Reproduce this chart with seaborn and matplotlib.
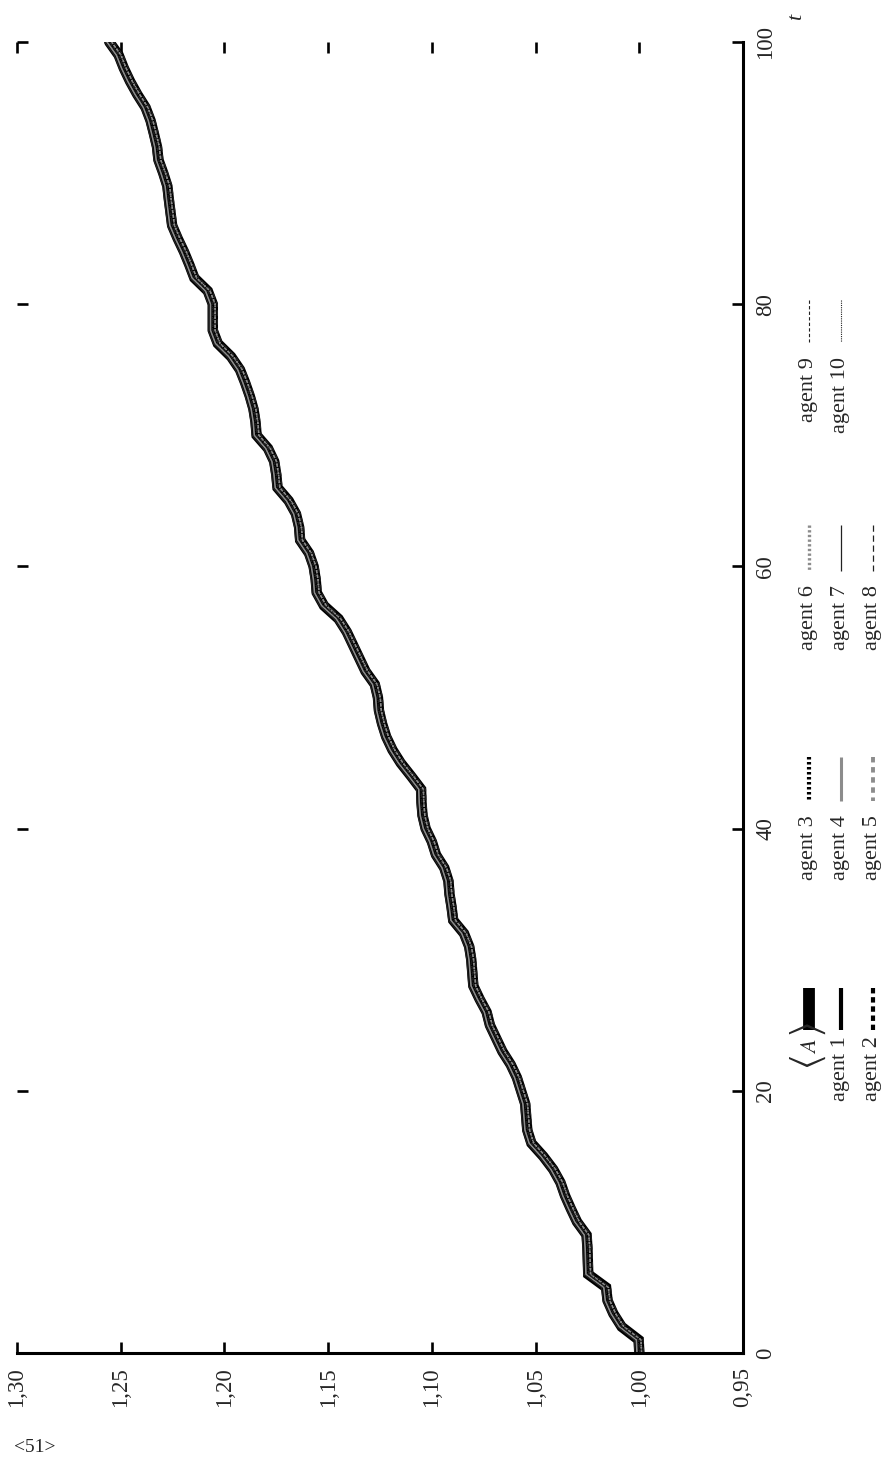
import numpy as np
import pandas as pd
import matplotlib
matplotlib.use("Agg")
import matplotlib.pyplot as plt
import matplotlib.transforms as mtransforms
from matplotlib.lines import Line2D
import seaborn as sns

# ---------------- data ----------------
t_steps = list(range(0, 101))
mean_A = [
    1.0000, 1.0003, 1.0085, 1.0125, 1.0153, 1.0160, 1.0246, 1.0248, 1.0250, 1.0254,
    1.0300, 1.0330, 1.0358, 1.0380, 1.0415, 1.0463, 1.0520, 1.0540, 1.0545, 1.0550,
    1.0570, 1.0590, 1.0620, 1.0660, 1.0690, 1.0720, 1.0736, 1.0770, 1.0800, 1.0805,
    1.0810, 1.0820, 1.0845, 1.0897, 1.0905, 1.0915, 1.0920, 1.0940, 1.0980, 1.1000,
    1.1030, 1.1045, 1.1050, 1.1052, 1.1100, 1.1150, 1.1190, 1.1220, 1.1240, 1.1255,
    1.1260, 1.1275, 1.1320, 1.1350, 1.1380, 1.1410, 1.1450, 1.1520, 1.1555, 1.1560,
    1.1570, 1.1592, 1.1635, 1.1640, 1.1655, 1.1690, 1.1744, 1.1750, 1.1760, 1.1790,
    1.1845, 1.1850, 1.1860, 1.1878, 1.1900, 1.1925, 1.1968, 1.2032, 1.2056, 1.2056,
    1.2056, 1.2080, 1.2145, 1.2169, 1.2195, 1.2225, 1.2252, 1.2260, 1.2268, 1.2275,
    1.2295, 1.2318, 1.2325, 1.2340, 1.2356, 1.2380, 1.2420, 1.2455, 1.2485, 1.2510,
    1.2555,
]
agent_names = ["agent 1", "agent 2", "agent 3", "agent 4", "agent 5",
               "agent 6", "agent 7", "agent 8", "agent 9", "agent 10"]
# the ten agents run on top of the average in the picture
agent_values = {name: mean_A for name in agent_names}

value_ticks = [1.30, 1.25, 1.20, 1.15, 1.10, 1.05, 1.00, 0.95]
value_tick_labels = ["1,30", "1,25", "1,20", "1,15", "1,10", "1,05", "1,00", "0,95"]
t_ticks = [0, 20, 40, 60, 80, 100]
t_tick_labels = ["0", "20", "40", "60", "80", "100"]

# ---------------- styles ----------------
GRAY = "#8c8c8c"
# lw: legend handle width, clw: width along the curve, dx: pixel shift inside the bundle
styles = {
    "agent 1":  dict(color="black", lw=3.0, clw=2.0, dashes=None, dx=0.0),
    "agent 2":  dict(color="black", lw=3.0, clw=2.0, dashes=(1.3, 0.9), dx=1.0),
    "agent 3":  dict(color="black", lw=3.0, clw=2.0, dashes=(0.6, 0.6), dx=-1.0),
    "agent 4":  dict(color=GRAY, lw=2.2, clw=1.2, dashes=None, dx=-2.3),
    "agent 5":  dict(color=GRAY, lw=2.8, clw=1.2, dashes=(1.4, 1.2), dx=2.3),
    "agent 6":  dict(color=GRAY, lw=2.4, clw=1.2, dashes=(0.7, 0.7), dx=2.3),
    "agent 7":  dict(color="#222222", lw=0.9, clw=0.8, dashes=None, dx=-4.5),
    "agent 8":  dict(color="#222222", lw=0.9, clw=0.8, dashes=(5, 3), dx=4.5),
    "agent 9":  dict(color="#222222", lw=0.8, clw=0.8, dashes=(3, 2), dx=0.3),
    "agent 10": dict(color="#222222", lw=0.8, clw=0.8, dashes=(1, 1), dx=-0.3),
}

W, H = 895, 1471
sns.set_theme(style="white")
plt.rcParams["font.family"] = ["Liberation Serif", "DejaVu Serif"]
plt.rcParams["mathtext.fontset"] = "stix"
plt.rcParams["font.size"] = 16

fig = plt.figure(figsize=(W / 100, H / 100), dpi=100)
ax_l, ax_r, ax_t, ax_b = 17, 743, 42, 1353
ax = fig.add_axes([ax_l / W, 1 - ax_b / H, (ax_r - ax_l) / W, (ax_b - ax_t) / H])

# average
sns.lineplot(x=mean_A, y=t_steps, sort=False, estimator=None, ax=ax,
             color="black", lw=7.5, legend=False)
ax.lines[-1].set_solid_joinstyle("miter")

for name in agent_names:
    st = styles[name]
    sns.lineplot(x=agent_values[name], y=t_steps, sort=False, estimator=None, ax=ax,
                 color=st["color"], lw=st["clw"], legend=False)
    ln = ax.lines[-1]
    if st["dashes"] is not None:
        ln.set_linestyle((0, st["dashes"]))
    ln.set_transform(ax.transData + mtransforms.ScaledTranslation(
        st["dx"] / 100, 0, fig.dpi_scale_trans))

ax.set_xlim(1.30, 0.95)
ax.set_ylim(0, 100)
ax.set_xlabel("")
ax.set_ylabel("")
ax.set_facecolor("white")
for side in ["top", "left"]:
    ax.spines[side].set_visible(False)
for side in ["bottom", "right"]:
    ax.spines[side].set_visible(True)
    ax.spines[side].set_linewidth(2.2)
    ax.spines[side].set_color("black")

ax.set_xticks(value_ticks)
ax.set_xticklabels(value_tick_labels, rotation=90)
ax.yaxis.tick_right()
ax.set_yticks(t_ticks)
ax.set_yticklabels(t_tick_labels, rotation=90, va="center")
ax.tick_params(axis="both", which="major", direction="in", length=8, width=1.9,
               color="black", top=True, bottom=True, left=True, right=True,
               labeltop=False, labelleft=False, labelbottom=True, labelright=True,
               labelsize=16.5, pad=9)
ax.tick_params(axis="x", pad=10)

# axis name t
fig.text(797 / W, 1 - 17 / H, "t", fontsize=16, style="italic", rotation=90,
         ha="center", va="center")

# page number
fig.text(35 / W, 1 - 1448 / H, "<51>", fontsize=14, ha="center", va="center")

# ---------------- legend (rotated) ----------------
row_x = [809, 841, 873]
col_handle = [(988, 1030), (757, 801), (525, 571), (300, 342)]
col_text_top = [1036, 815, 585, 357]
legend_layout = [
    ["<A>", "agent 1", "agent 2"],
    ["agent 3", "agent 4", "agent 5"],
    ["agent 6", "agent 7", "agent 8"],
    ["agent 9", "agent 10"],
]
for ci, col in enumerate(legend_layout):
    for ri, name in enumerate(col):
        xx = row_x[ri] / W
        y1, y2 = col_handle[ci]
        if name == "<A>":
            fig.add_artist(Line2D([xx, xx], [1 - y1 / H, 1 - y2 / H],
                                  transform=fig.transFigure, color="black",
                                  lw=8.5, solid_capstyle="butt"))
            fig.text(xx - 1 / W, 1 - 1062 / H, r"$\langle$", fontsize=28,
                     rotation=90, ha="center", va="center")
            fig.text(xx + 3 / W, 1 - 1046 / H, r"$A$", fontsize=16,
                     rotation=90, ha="center", va="center")
            fig.text(xx - 1 / W, 1 - 1030 / H, r"$\rangle$", fontsize=28,
                     rotation=90, ha="center", va="center")
        else:
            st = styles[name]
            ln = Line2D([xx, xx], [1 - y1 / H, 1 - y2 / H], transform=fig.transFigure,
                        color=st["color"], lw=st["lw"], solid_capstyle="butt",
                        dash_capstyle="butt")
            if st["dashes"] is not None:
                ln.set_linestyle((0, st["dashes"]))
            fig.add_artist(ln)
            fig.text(xx, 1 - col_text_top[ci] / H, name, fontsize=16, rotation=90,
                     ha="center", va="top")

fig.savefig("out.png", dpi=100, facecolor="white")
